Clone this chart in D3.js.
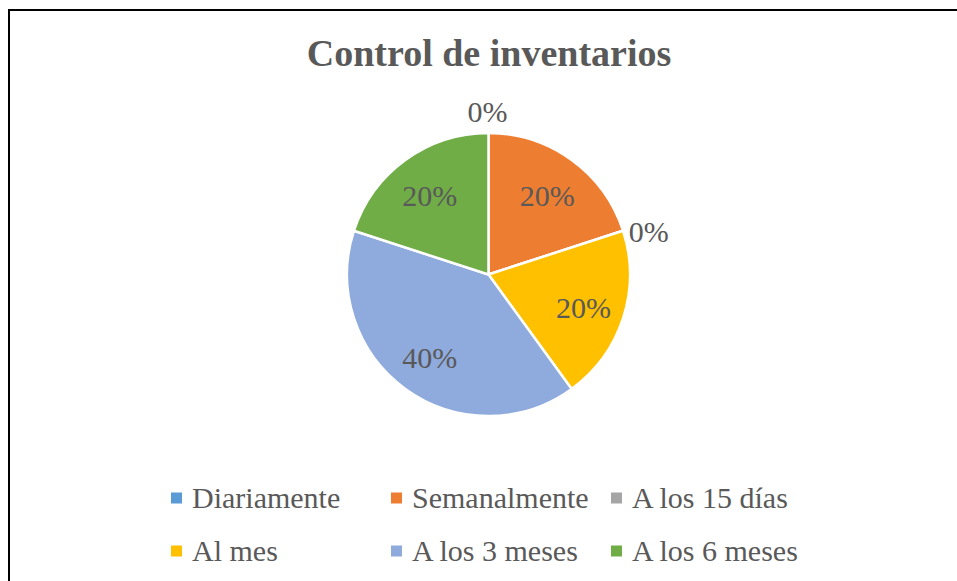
<!DOCTYPE html>
<html>
<head>
<meta charset="utf-8">
<script src="https://cdn.jsdelivr.net/npm/d3@7"></script>
<style>
  body { margin: 0; background: #fff; }
  svg { display: block; }
  svg text { font-family: "Liberation Serif", "Times New Roman", Times, serif; }
</style>
</head>
<body>
<svg id="chart" width="957" height="581"></svg>
<script>
const title = "Control de inventarios";
const categories = ["Diariamente", "Semanalmente", "A los 15 días", "Al mes", "A los 3 meses", "A los 6 meses"];
const values = [0, 20, 0, 20, 40, 20];
const colors = ["#5B9BD5", "#ED7D31", "#A5A5A5", "#FFC000", "#8FAADC", "#70AD47"];

const svg = d3.select("#chart");
const textColor = "#595959";

// outer border (runs off the right and bottom edge like the original)
svg.append("rect")
  .attr("x", 9).attr("y", 10)
  .attr("width", 1000).attr("height", 1000)
  .attr("fill", "none")
  .attr("stroke", "#000")
  .attr("stroke-width", 2);

svg.append("text")
  .attr("x", 489).attr("y", 66)
  .attr("text-anchor", "middle")
  .attr("font-size", 38)
  .attr("font-weight", "bold")
  .attr("fill", textColor)
  .text(title);

const cx = 488.5, cy = 274.5, r = 141.5;
const total = d3.sum(values);

const pie = d3.pie().sort(null).value((d) => d.value);
const arcs = pie(categories.map((c, i) => ({ name: c, value: values[i], color: colors[i] })));
const arc = d3.arc().innerRadius(0).outerRadius(r);
const labelArc = d3.arc().innerRadius(100).outerRadius(100);

const g = svg.append("g").attr("transform", "translate(" + cx + "," + cy + ")");

g.selectAll("path")
  .data(arcs)
  .enter()
  .append("path")
  .attr("d", arc)
  .attr("fill", (d) => d.data.color)
  .attr("stroke", "#fff")
  .attr("stroke-width", 2.5)
  .attr("stroke-linejoin", "round");

const pct = (v) => Math.round((v / total) * 100) + "%";

// labels: inside for real slices, outside for the empty ones
g.selectAll("text.lbl")
  .data(arcs)
  .enter()
  .append("text")
  .attr("class", "lbl")
  .attr("font-size", 30)
  .attr("fill", textColor)
  .each(function (d) {
    const t = d3.select(this);
    if (d.data.value > 0) {
      const [x, y] = labelArc.centroid(d);
      t.attr("x", x).attr("y", y).attr("dy", "0.42em").attr("text-anchor", "middle");
    } else {
      const a = d.startAngle;
      const sx = Math.sin(a), sy = -Math.cos(a);
      if (Math.abs(sx) < 0.3) {
        t.attr("x", sx * r - 1).attr("y", sy * (r + 11)).attr("text-anchor", "middle");
      } else {
        t.attr("x", sx * (r + 6)).attr("y", sy * r).attr("dy", "0.38em")
          .attr("text-anchor", sx > 0 ? "start" : "end");
      }
    }
    t.text(pct(d.data.value));
  });

// legend, 3 columns x 2 rows
const colX = d3.scalePoint().domain([0, 1, 2]).range([171, 611]);
const rowY = d3.scalePoint().domain([0, 1]).range([498, 551]);

const leg = svg.selectAll("g.legend")
  .data(categories)
  .enter()
  .append("g")
  .attr("class", "legend")
  .attr("transform", (d, i) => "translate(" + colX(i % 3) + "," + rowY(Math.floor(i / 3)) + ")");

leg.append("rect")
  .attr("x", 0).attr("y", -5.5)
  .attr("width", 11).attr("height", 11)
  .attr("fill", (d, i) => colors[i]);

leg.append("text")
  .attr("x", 21).attr("y", 10)
  .attr("font-size", 30)
  .attr("fill", textColor)
  .text((d) => d);
</script>
</body>
</html>
